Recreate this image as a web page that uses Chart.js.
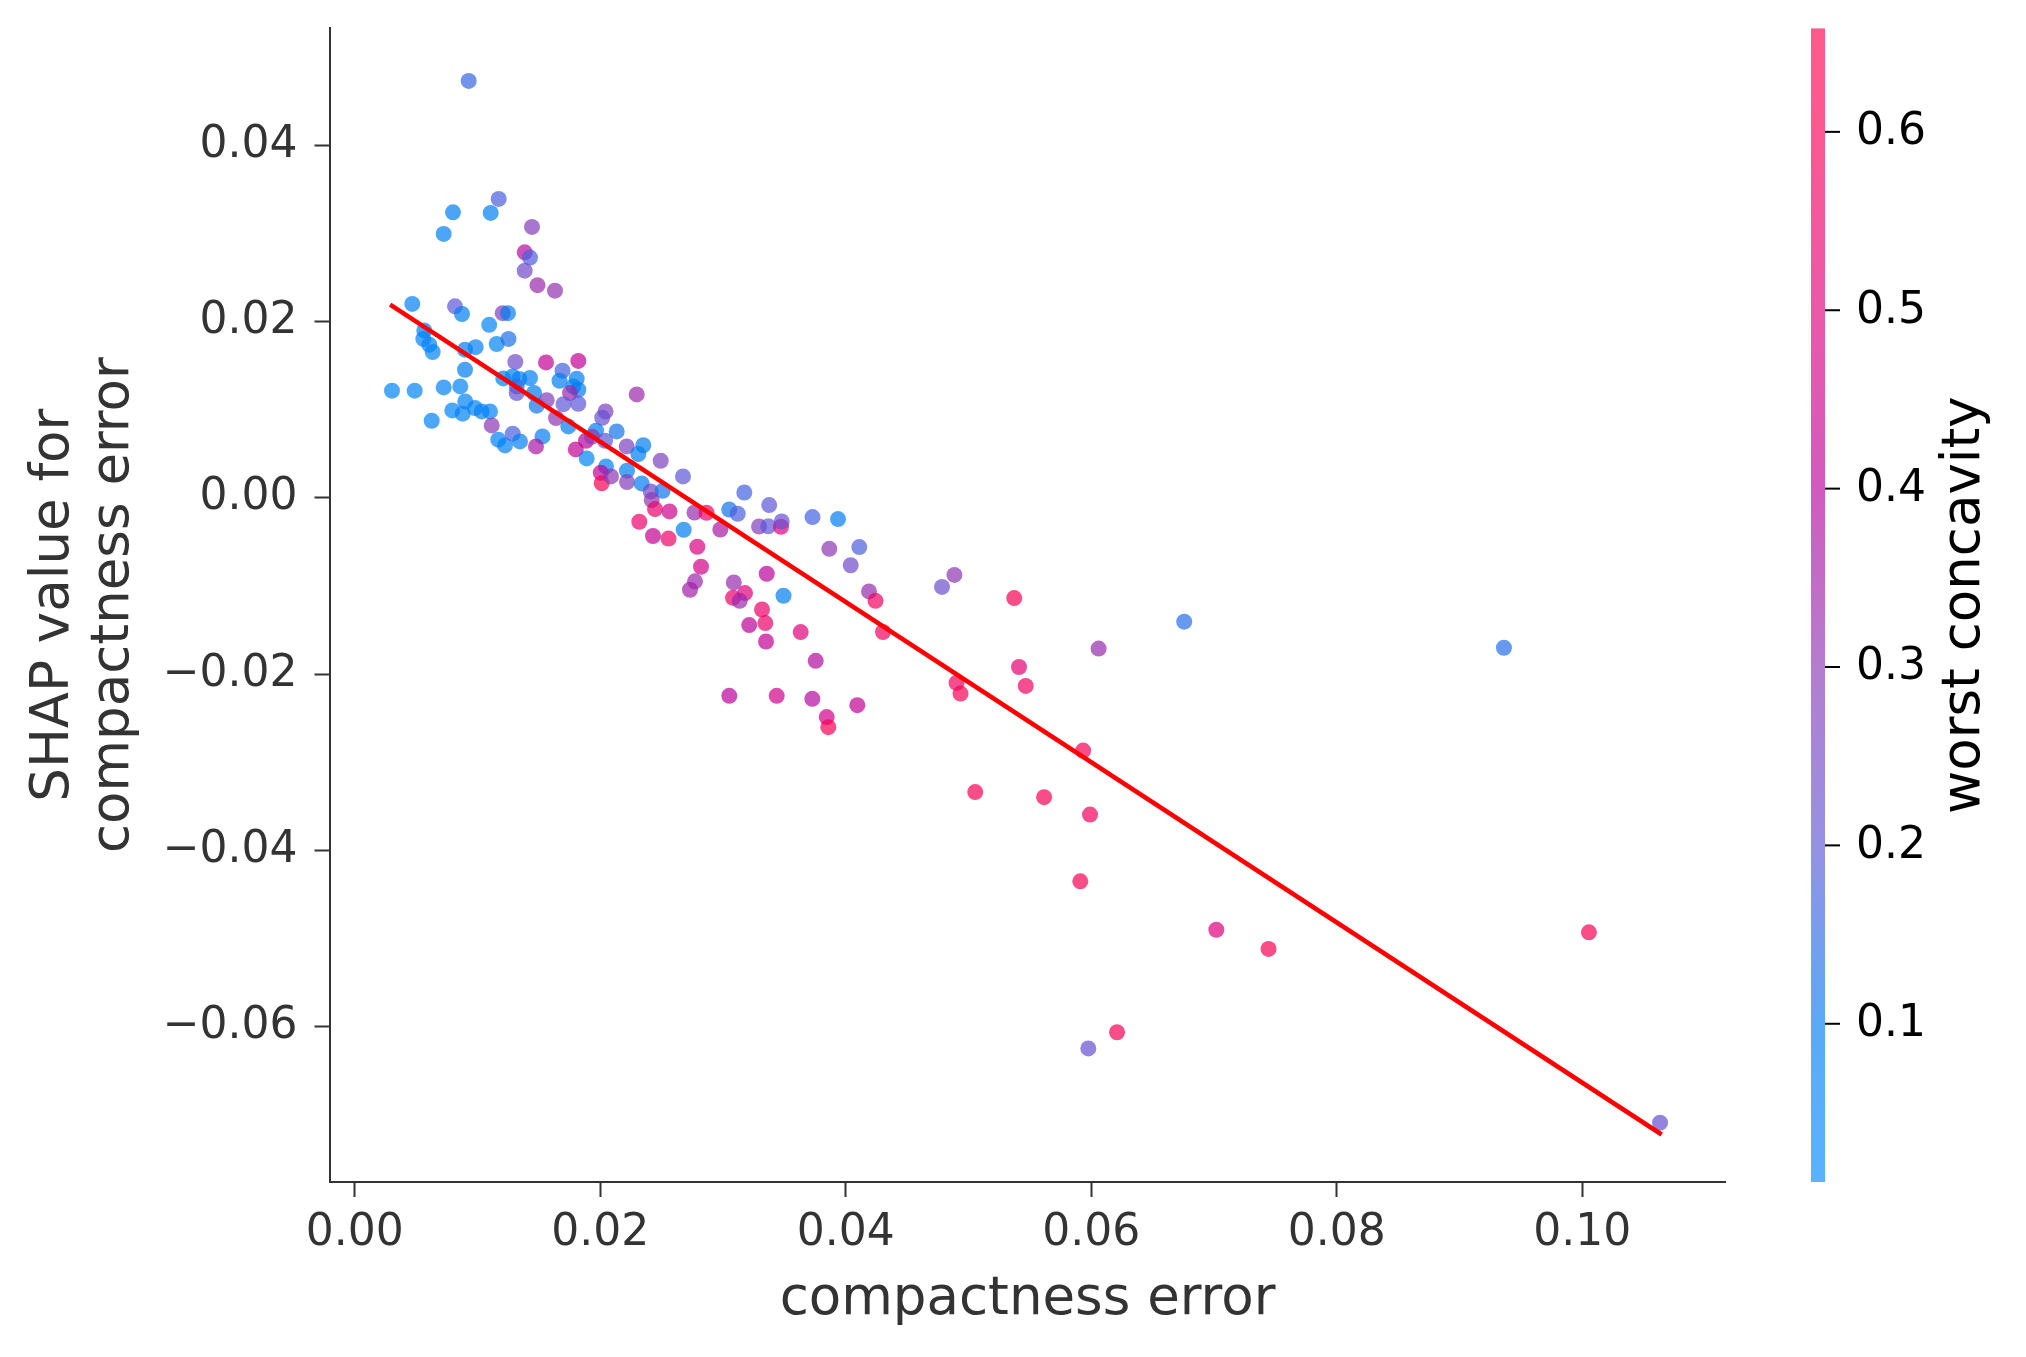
<!DOCTYPE html>
<html>
<head>
<meta charset="utf-8">
<script src="https://cdn.jsdelivr.net/npm/chart.js@4.4.1/dist/chart.umd.min.js"></script>
<style>
  html, body { margin: 0; padding: 0; background: #ffffff; }
  #wrap { width: 2026px; height: 1357px; }
</style>
</head>
<body>
<div id="wrap"><canvas id="c" width="2026" height="1357"></canvas></div>
<script>
// ---- data ----
const compactnessError = [
  0.009279,0.011723,0.008000,0.011071,0.007242,0.014436,0.013841,0.014273,0.013841,0.014884,
  0.016309,0.004684,0.008163,0.008733,0.012049,0.012481,0.010949,0.005662,0.005580,0.006069,
  0.006346,0.008978,0.009849,0.011560,0.012521,0.013075,0.015576,0.018208,0.008978,0.016920,
  0.016676,0.018077,0.017800,0.018208,0.017532,0.012098,0.012863,0.013401,0.014273,0.013189,
  0.013189,0.014599,0.014819,0.015633,0.017002,0.018208,0.022965,0.003031,0.004880,0.007242,
  0.008595,0.009002,0.007943,0.008790,0.009792,0.010338,0.011014,0.006265,0.011153,0.016391,
  0.017393,0.020424,0.020155,0.021336,0.019650,0.018835,0.019324,0.020383,0.011690,0.012236,
  0.012863,0.013458,0.015291,0.014762,0.018004,0.018892,0.022150,0.023503,0.023096,0.024920,
  0.022175,0.022175,0.020464,0.020041,0.020114,0.020872,0.023373,0.024106,0.025083,0.024187,
  0.024456,0.025638,0.026737,0.023177,0.024293,0.025556,0.026794,0.027674,0.028652,0.029776,
  0.030501,0.031193,0.031731,0.033760,0.032929,0.033686,0.034721,0.034778,0.037287,0.039365,
  0.027902,0.028204,0.027715,0.027307,0.033556,0.030876,0.030811,0.031788,0.031356,0.034925,
  0.033173,0.033442,0.032130,0.033499,0.036326,0.038656,0.041100,0.040399,0.041890,0.042419,
  0.043030,0.037548,0.047837,0.048847,0.053719,0.067568,0.093613,0.060594,0.054110,0.054656,
  0.049018,0.049344,0.059332,0.050542,0.056154,0.059894,0.059104,0.070183,0.074435,0.100537,
  0.062094,0.059755,0.106330,0.030509,0.034370,0.037271,0.040937,0.038444,0.038574
];
const shapValue = [
  0.04732,0.03393,0.03241,0.03234,0.02996,0.03075,0.02787,0.02727,0.02579,0.02414,
  0.02352,0.02202,0.02174,0.02087,0.02097,0.02097,0.01964,0.01901,0.01804,0.01739,
  0.01656,0.01682,0.01711,0.01747,0.01804,0.01543,0.01538,0.01555,0.01455,0.01444,
  0.01330,0.01353,0.01266,0.01228,0.01191,0.01356,0.01379,0.01350,0.01361,0.01266,
  0.01191,0.01191,0.01047,0.01109,0.01064,0.01069,0.01175,0.01217,0.01217,0.01254,
  0.01266,0.01095,0.00993,0.00956,0.01020,0.00982,0.00982,0.00876,0.00823,0.00907,
  0.00812,0.00982,0.00910,0.00755,0.00763,0.00649,0.00695,0.00649,0.00661,0.00596,
  0.00729,0.00641,0.00698,0.00585,0.00551,0.00448,0.00585,0.00598,0.00499,0.00422,
  0.00309,0.00180,0.00358,0.00286,0.00167,0.00244,0.00165,0.00074,0.00082,-0.00024,
  -0.00126,-0.00153,0.00244,-0.00270,-0.00432,-0.00461,-0.00361,-0.00165,-0.00168,-0.00358,
  -0.00131,-0.00179,0.00062,-0.00081,-0.00324,-0.00321,-0.00327,-0.00267,-0.00217,-0.00240,
  -0.00554,-0.00781,-0.00946,-0.01042,-0.00860,-0.00959,-0.01133,-0.01079,-0.01167,-0.01110,
  -0.01266,-0.01420,-0.01443,-0.01629,-0.01522,-0.00577,-0.00557,-0.00764,-0.01061,-0.01167,
  -0.01521,-0.01848,-0.01010,-0.00873,-0.01136,-0.01404,-0.01700,-0.01709,-0.01918,-0.02133,
  -0.02098,-0.02220,-0.02867,-0.03338,-0.03395,-0.03593,-0.04350,-0.04900,-0.05117,-0.04929,
  -0.06063,-0.06246,-0.07089,-0.02245,-0.02245,-0.02279,-0.02351,-0.02487,-0.02601
];
const worstConcavity = [
  0.16,0.18,0.10,0.08,0.08,0.28,0.38,0.18,0.24,0.33,
  0.31,0.07,0.20,0.09,0.28,0.10,0.05,0.07,0.06,0.06,
  0.05,0.09,0.08,0.05,0.13,0.24,0.42,0.42,0.09,0.17,
  0.10,0.10,0.08,0.09,0.33,0.07,0.06,0.08,0.08,0.15,
  0.22,0.10,0.12,0.28,0.20,0.20,0.33,0.05,0.05,0.06,
  0.05,0.06,0.05,0.07,0.07,0.06,0.07,0.06,0.30,0.30,
  0.10,0.27,0.22,0.12,0.10,0.40,0.30,0.20,0.07,0.06,
  0.18,0.08,0.10,0.36,0.42,0.05,0.27,0.10,0.10,0.27,
  0.10,0.28,0.08,0.42,0.60,0.30,0.10,0.25,0.12,0.30,
  0.55,0.45,0.20,0.55,0.43,0.56,0.10,0.32,0.55,0.36,
  0.12,0.18,0.17,0.20,0.28,0.20,0.50,0.22,0.17,0.09,
  0.48,0.46,0.33,0.35,0.40,0.32,0.55,0.50,0.33,0.10,
  0.55,0.55,0.40,0.42,0.50,0.30,0.18,0.24,0.32,0.57,
  0.57,0.38,0.23,0.30,0.60,0.14,0.14,0.32,0.52,0.57,
  0.58,0.60,0.60,0.60,0.60,0.58,0.60,0.50,0.60,0.60,
  0.60,0.22,0.22,0.40,0.45,0.38,0.42,0.45,0.60
];
const fitLineX = [0.00288, 0.10646];
const fitLineY = [0.02193, -0.07223];
const xTicks = [0.00, 0.02, 0.04, 0.06, 0.08, 0.10];
const yTicks = [-0.06, -0.04, -0.02, 0.00, 0.02, 0.04];
const cbTicks = [0.1, 0.2, 0.3, 0.4, 0.5, 0.6];
const X_MIN = -0.00206, X_MAX = 0.11167;
const Y_MIN = -0.07762, Y_MAX = 0.05328;
const C_MIN = 0.0113, C_MAX = 0.658;

// ---- colormap (SHAP red_blue, approximated) ----
const cmapStops = [
  [0.000, [0, 138, 255]],
  [0.137, [1, 124, 240]],
  [0.292, [93, 86, 217]],
  [0.447, [140, 55, 178]],
  [0.601, [186, 1, 155]],
  [0.756, [224, 0, 124]],
  [0.910, [247, 1, 86]],
  [1.000, [255, 1, 78]]
];
function cmap(t) {
  t = Math.max(0, Math.min(1, t));
  for (let i = 1; i < cmapStops.length; i++) {
    const [t1, c1] = cmapStops[i];
    const [t0, c0] = cmapStops[i - 1];
    if (t <= t1) {
      const f = (t - t0) / (t1 - t0);
      return c0.map((v, k) => Math.round(v + (c1[k] - v) * f));
    }
  }
  return cmapStops[cmapStops.length - 1][1];
}
function rgba(c, a) { return `rgba(${c[0]},${c[1]},${c[2]},${a})`; }

const points = compactnessError.map((x, i) => ({ x: x, y: shapValue[i] }));
const pointColors = worstConcavity.map(v => rgba(cmap((v - C_MIN) / (C_MAX - C_MIN)), 0.7));
const linePts = fitLineX.map((x, i) => ({ x: x, y: fitLineY[i] }));

const fmt2 = v => (v < -1e-9 ? '\u2212' : '') + Math.abs(v).toFixed(2);
const FONT = 'DejaVu Sans';

const colorbarPlugin = {
  id: 'colorbar',
  afterDraw(chart) {
    const sc = chart.scales.c;
    const ctx = chart.ctx;
    const top = sc.getPixelForValue(C_MAX);
    const bot = sc.getPixelForValue(C_MIN);
    const x0 = chart.chartArea.right + 85.4;
    const w = 14;
    ctx.save();
    const g = ctx.createLinearGradient(0, bot, 0, top);
    cmapStops.forEach(([t, c]) => g.addColorStop(t, rgba(c, 0.65)));
    ctx.fillStyle = g;
    ctx.fillRect(x0, top, w, bot - top);
    ctx.strokeStyle = '#000';
    ctx.lineWidth = 2;
    ctx.fillStyle = '#000';
    ctx.font = `44px "${FONT}"`;
    ctx.textAlign = 'left';
    ctx.textBaseline = 'middle';
    cbTicks.forEach(v => {
      const y = sc.getPixelForValue(v);
      ctx.beginPath();
      ctx.moveTo(x0 + w, y);
      ctx.lineTo(x0 + w + 15, y);
      ctx.stroke();
      ctx.fillText(v.toFixed(1), x0 + w + 31, y + 1);
    });
    ctx.font = `53px "${FONT}"`;
    ctx.textAlign = 'center';
    ctx.translate(x0 + w + 140, (top + bot) / 2);
    ctx.rotate(-Math.PI / 2);
    ctx.fillText('worst concavity', 0, 0);
    ctx.restore();
  }
};

new Chart(document.getElementById('c'), {
  type: 'scatter',
  data: {
    datasets: [
      {
        type: 'line',
        data: linePts,
        borderColor: '#ff0000',
        borderWidth: 4.5,
        pointRadius: 0,
        fill: false,
        order: 0,
        xAxisID: 'x',
        yAxisID: 'y'
      },
      {
        data: points,
        backgroundColor: pointColors,
        pointRadius: 8,
        pointBorderWidth: 0,
        borderWidth: 0,
        order: 1,
        xAxisID: 'x',
        yAxisID: 'y'
      }
    ]
  },
  options: {
    responsive: false,
    animation: false,
    devicePixelRatio: 1,
    layout: { padding: { left: 0, right: 300.4, top: 28.4, bottom: 0 } },
    plugins: { legend: { display: false }, tooltip: { enabled: false } },
    scales: {
      x: {
        type: 'linear',
        position: 'bottom',
        min: X_MIN,
        max: X_MAX,
        afterBuildTicks: s => { s.ticks = xTicks.map(v => ({ value: v })); },
        afterFit: s => { s.height = 175; s.paddingLeft = 0; s.paddingRight = 0; },
        ticks: {
          callback: v => fmt2(v),
          font: { family: FONT, size: 44 },
          color: '#333333',
          padding: 10,
          maxRotation: 0,
          autoSkip: false
        },
        grid: { drawOnChartArea: false, drawTicks: true, tickLength: 15, tickWidth: 2, tickColor: '#333333' },
        border: { display: true, color: '#333333', width: 2 },
        title: {
          display: true,
          text: 'compactness error',
          font: { family: FONT, size: 53, lineHeight: 1.13 },
          color: '#333333',
          padding: { top: 0, bottom: 27 }
        }
      },
      y: {
        type: 'linear',
        position: 'left',
        min: Y_MIN,
        max: Y_MAX,
        afterBuildTicks: s => { s.ticks = yTicks.map(v => ({ value: v })); },
        afterFit: s => { s.width = 329.5; s.paddingTop = 0; s.paddingBottom = 0; },
        ticks: {
          callback: v => fmt2(v),
          font: { family: FONT, size: 44 },
          color: '#333333',
          padding: 17,
          autoSkip: false
        },
        grid: { drawOnChartArea: false, drawTicks: true, tickLength: 15, tickWidth: 2, tickColor: '#333333' },
        border: { display: true, color: '#333333', width: 2 },
        title: {
          display: true,
          text: ['SHAP value for', 'compactness error'],
          font: { family: FONT, size: 53, lineHeight: 1.13 },
          color: '#333333',
          padding: { top: 24, bottom: 0 }
        }
      },
      c: {
        type: 'linear',
        axis: 'y',
        position: 'right',
        display: false,
        min: C_MIN,
        max: C_MAX
      }
    }
  },
  plugins: [colorbarPlugin]
});
</script>
</body>
</html>
